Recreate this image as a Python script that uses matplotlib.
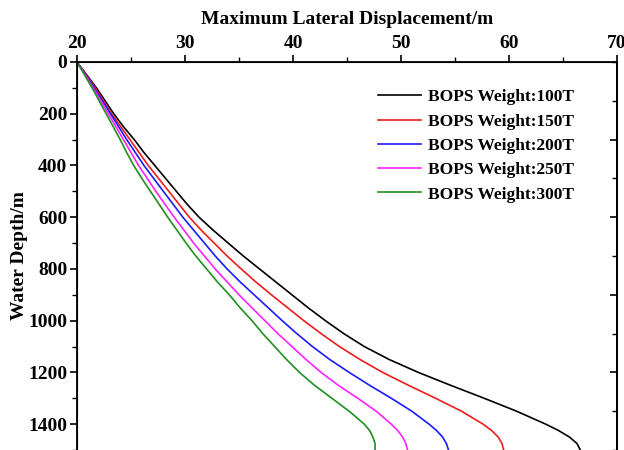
import numpy as np
import matplotlib
matplotlib.use("Agg")
import matplotlib.pyplot as plt
from matplotlib.ticker import MultipleLocator

# water depth (m) and max lateral displacement (m)
depth = [0, 50, 100, 150, 200, 250, 300, 350, 400, 450, 500, 550, 600,
         650, 700, 750, 800, 850, 900, 950, 1000, 1050, 1100, 1150, 1200,
         1250, 1300, 1350, 1400, 1425, 1450, 1475, 1500]

disp_100 = [20.0, 20.9, 21.8, 22.6, 23.4, 24.3, 25.3, 26.2, 27.2, 28.2, 29.2,
            30.2, 31.3, 32.6, 34.0, 35.4, 36.9, 38.4, 39.9, 41.4, 43.0, 44.7,
            46.6, 48.9, 51.6, 54.6, 57.7, 60.7, 63.4, 64.6, 65.6, 66.3, 66.6]
disp_150 = [20.0, 20.85, 21.7, 22.45, 23.2, 24.05, 24.9, 25.75, 26.6, 27.55,
            28.5, 29.45, 30.4, 31.5, 32.7, 33.9, 35.2, 36.55, 38.0, 39.5, 41.0,
            42.6, 44.3, 46.2, 48.3, 50.7, 53.2, 55.6, 57.6, 58.4, 59.0, 59.35,
            59.5]
disp_200 = [20.0, 20.8, 21.6, 22.35, 23.1, 23.85, 24.6, 25.4, 26.2, 27.1,
            28.0, 28.9, 29.8, 30.8, 31.8, 32.8, 33.9, 35.1, 36.4, 37.7, 39.0,
            40.35, 41.8, 43.4, 45.2, 47.1, 49.1, 51.0, 52.6, 53.3, 53.85, 54.2,
            54.4]
disp_250 = [20.0, 20.75, 21.5, 22.2, 22.9, 23.6, 24.3, 25.0, 25.7, 26.5,
            27.3, 28.15, 29.0, 29.9, 30.8, 31.8, 32.8, 33.9, 35.0, 36.2, 37.4,
            38.6, 39.9, 41.2, 42.6, 44.2, 46.0, 47.7, 49.1, 49.7, 50.15, 50.45,
            50.6]
disp_300 = [20.0, 20.7, 21.4, 22.05, 22.7, 23.35, 24.0, 24.6, 25.25, 26.0,
            26.8, 27.6, 28.4, 29.25, 30.1, 31.0, 32.0, 33.0, 34.1, 35.1, 36.2,
            37.2, 38.3, 39.4, 40.6, 42.0, 43.6, 45.2, 46.6, 47.1, 47.4, 47.6,
            47.6]

labels = ["BOPS Weight:100T", "BOPS Weight:150T", "BOPS Weight:200T",
          "BOPS Weight:250T", "BOPS Weight:300T"]
series = [disp_100, disp_150, disp_200, disp_250, disp_300]
colors = ["black", "#ee1c1c", "#1a1aff", "#ff22ff", "#1f8f1f"]

plt.rcParams["font.family"] = "serif"
plt.rcParams["font.serif"] = ["Liberation Serif", "DejaVu Serif"]
plt.rcParams["font.weight"] = "bold"
plt.rcParams["font.size"] = 14

fig = plt.figure(figsize=(6.24, 4.5), dpi=100)
ax = fig.add_axes([77 / 624, 0.0, 540 / 624, 388 / 450])

for d, lab, c in zip(series, labels, colors):
    ax.plot(d, depth, color=c, lw=1.2, label=lab)

ax.set_xlim(20, 70)
ax.set_ylim(1500, 0)

# x axis on top
ax.xaxis.set_ticks_position("top")
ax.xaxis.set_label_position("top")
ax.set_xticks(np.arange(20, 71, 10))
ax.xaxis.set_minor_locator(MultipleLocator(5))
ax.set_xlabel("Maximum Lateral Displacement/m", fontsize=14,
              fontweight="bold", labelpad=8)

ax.set_yticks(np.arange(0, 1401, 200))
ax.yaxis.set_minor_locator(MultipleLocator(100))
ax.set_ylabel("Water Depth/m", fontsize=14, fontweight="bold", labelpad=0)

ax.tick_params(which="major", direction="out", length=5, width=1.2, pad=2,
               labelsize=14)
ax.tick_params(which="minor", direction="out", length=3.5, width=1.0)

for s in ["top", "left", "right"]:
    ax.spines[s].set_linewidth(1.3)
ax.spines["bottom"].set_visible(False)

# right side ticks (inward, no labels)
ax2 = ax.twinx()
ax2.set_ylim(1500, 0)
ax2.set_yticks(np.arange(300, 1500, 300))
ax2.yaxis.set_minor_locator(MultipleLocator(150))
ax2.tick_params(which="major", direction="in", length=5, width=1.2,
                labelright=False)
ax2.tick_params(which="minor", direction="in", length=3.5, width=1.0)
ax2.spines["bottom"].set_visible(False)
ax2.spines["right"].set_linewidth(1.3)

ax.legend(loc="upper left", bbox_to_anchor=(0.557, 0.93), frameon=False,
          handlelength=2.5, handletextpad=0.4,
          labelspacing=0.47, borderpad=0, borderaxespad=0,
          prop={"weight": "bold", "size": 12.5})

fig.savefig("out.png", dpi=100)
